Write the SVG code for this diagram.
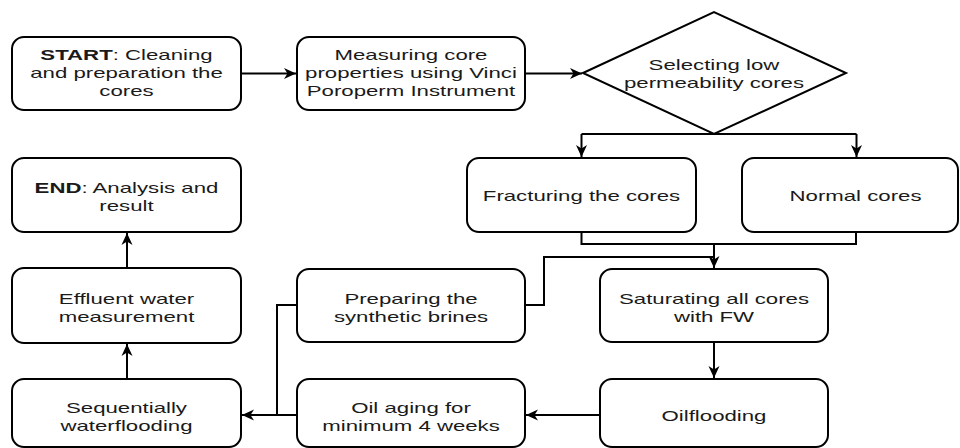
<svg xmlns="http://www.w3.org/2000/svg" width="960" height="448" viewBox="0 0 960 448">
<style>
.box{fill:#fff;stroke:#000;stroke-width:2}
.t{font-family:"Liberation Sans",Arial,sans-serif;font-size:15px;fill:#1a1a1a;text-anchor:middle}
.b{font-weight:bold}
.c{fill:none;stroke:#000;stroke-width:2}
</style>
<defs>
<marker id="ah" markerUnits="userSpaceOnUse" markerWidth="14" markerHeight="12" refX="12" refY="6" orient="auto">
<path d="M0,0.5 L12,6 L0,11.5 L3.5,6 Z" fill="#000"/>
</marker>
</defs>
<rect width="960" height="448" fill="#fff"/>
<g id="connectors">
<path class="c" d="M241,73.5 H296" marker-end="url(#ah)"/>
<path class="c" d="M525,73.5 H582" marker-end="url(#ah)"/>
<path class="c" d="M581.5,134 H856.5"/>
<path class="c" d="M581.5,134 V157" marker-end="url(#ah)"/>
<path class="c" d="M856.5,134 V157" marker-end="url(#ah)"/>
<path class="c" d="M581.5,232 V244 H856 V232"/>
<path class="c" d="M714,244 V268" marker-end="url(#ah)"/>
<path class="c" d="M525,305 H544 V257 H714"/>
<path class="c" d="M714,342 V378" marker-end="url(#ah)"/>
<path class="c" d="M600,415 H526" marker-end="url(#ah)"/>
<path class="c" d="M297,305 H277 V415"/>
<path class="c" d="M297,415 H242" marker-end="url(#ah)"/>
<path class="c" d="M127,379 V344" marker-end="url(#ah)"/>
<path class="c" d="M127,268 V233" marker-end="url(#ah)"/>
</g>
<g id="start">
<rect class="box" x="12" y="37" width="229" height="73" rx="12"/>
<text class="t" transform="translate(126.5 0) scale(1.48 1)" y="60"><tspan class="b">START</tspan>: Cleaning</text>
<text class="t" transform="translate(126.5 0) scale(1.48 1)" y="78">and preparation the</text>
<text class="t" transform="translate(126.5 0) scale(1.48 1)" y="96">cores</text>
</g>
<g id="measuring">
<rect class="box" x="297" y="37" width="228" height="73" rx="12"/>
<text class="t" transform="translate(411 0) scale(1.48 1)" y="60">Measuring core</text>
<text class="t" transform="translate(411 0) scale(1.48 1)" y="78">properties using Vinci</text>
<text class="t" transform="translate(411 0) scale(1.48 1)" y="96">Poroperm Instrument</text>
</g>
<g id="selecting">
<polygon class="box" points="583,73 714,12 846,73 714,134"/>
<text class="t" transform="translate(714 0) scale(1.48 1)" y="70">Selecting low</text>
<text class="t" transform="translate(714 0) scale(1.48 1)" y="88">permeability cores</text>
</g>
<g id="fracturing">
<rect class="box" x="467" y="158" width="229" height="74" rx="12"/>
<text class="t" transform="translate(581.5 0) scale(1.48 1)" y="201">Fracturing the cores</text>
</g>
<g id="normal">
<rect class="box" x="742" y="158" width="216" height="74" rx="12"/>
<text class="t" transform="translate(855.5 0) scale(1.48 1)" y="201">Normal cores</text>
</g>
<g id="end">
<rect class="box" x="12" y="158" width="229" height="74" rx="12"/>
<text class="t" transform="translate(126.5 0) scale(1.48 1)" y="193"><tspan class="b">END</tspan>: Analysis and</text>
<text class="t" transform="translate(126.5 0) scale(1.48 1)" y="211">result</text>
</g>
<g id="effluent">
<rect class="box" x="12" y="268" width="229" height="75" rx="12"/>
<text class="t" transform="translate(126.5 0) scale(1.48 1)" y="304">Effluent water</text>
<text class="t" transform="translate(126.5 0) scale(1.48 1)" y="322">measurement</text>
</g>
<g id="sequentially">
<rect class="box" x="12" y="379" width="229" height="68" rx="12"/>
<text class="t" transform="translate(126.5 0) scale(1.48 1)" y="413">Sequentially</text>
<text class="t" transform="translate(126.5 0) scale(1.48 1)" y="431">waterflooding</text>
</g>
<g id="brines">
<rect class="box" x="297" y="269" width="228" height="73" rx="12"/>
<text class="t" transform="translate(411 0) scale(1.48 1)" y="304">Preparing the</text>
<text class="t" transform="translate(411 0) scale(1.48 1)" y="322">synthetic brines</text>
</g>
<g id="aging">
<rect class="box" x="297" y="379" width="228" height="68" rx="12"/>
<text class="t" transform="translate(411 0) scale(1.48 1)" y="413">Oil aging for</text>
<text class="t" transform="translate(411 0) scale(1.48 1)" y="431">minimum 4 weeks</text>
</g>
<g id="saturating">
<rect class="box" x="600" y="269" width="228" height="73" rx="12"/>
<text class="t" transform="translate(714 0) scale(1.48 1)" y="304">Saturating all cores</text>
<text class="t" transform="translate(714 0) scale(1.48 1)" y="322">with FW</text>
</g>
<g id="oilflooding">
<rect class="box" x="600" y="379" width="228" height="68" rx="12"/>
<text class="t" transform="translate(714 0) scale(1.48 1)" y="421">Oilflooding</text>
</g>
</svg>
